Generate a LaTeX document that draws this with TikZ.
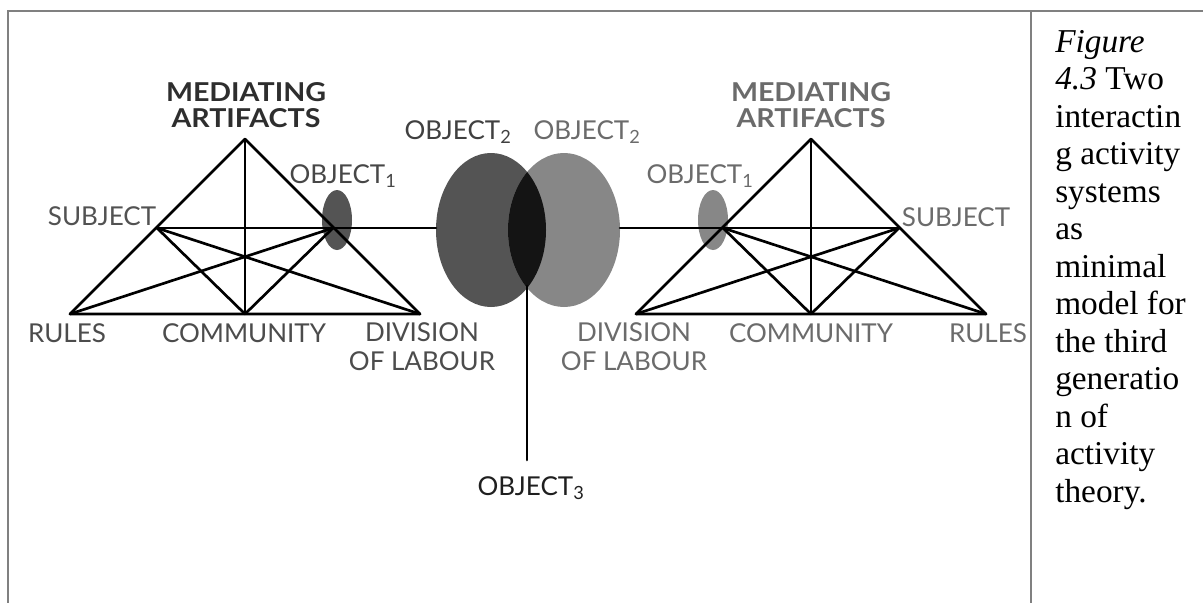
\documentclass[tikz,border=0pt]{standalone}
\usepackage{fontspec}
\setmainfont{Liberation Serif}
\newfontfamily\gillfont{Lato}
\newfontfamily\gillwide{Lato}[FakeStretch=1.1]
\begin{document}
\begin{tikzpicture}[x=0.75pt,y=-0.75pt,
  tri/.style={line width=2pt,line join=round,line cap=round},
  frame/.style={draw=black!50,line width=1.5pt},
  lbl/.style={font=\gillfont\fontsize{19.5}{22}\selectfont,inner sep=0pt,align=center},
  lblb/.style={font=\gillwide\bfseries\fontsize{19.5}{19}\selectfont,inner sep=0pt,align=center}]
\useasboundingbox (0,0) rectangle (1203,603);
% frame
\draw[frame] (8,603) -- (8,11) -- (1203,11);
\draw[frame] (1031,11) -- (1031,603);
% coordinates left system
\coordinate (LA) at (245,139);
\coordinate (LR) at (70,314);
\coordinate (LC) at (245,314);
\coordinate (LD) at (420,314);
\coordinate (LS) at (157,228);
\coordinate (LO) at (333,228);
% right system
\coordinate (RA) at (811,139);
\coordinate (RR) at (986,314);
\coordinate (RC) at (811,314);
\coordinate (RD) at (636,314);
\coordinate (RS) at (899,228);
\coordinate (RO) at (723,228);
% object ellipses
\fill[black!67] (337,220) ellipse [x radius=15, y radius=30];
\fill[black!47] (713,220) ellipse [x radius=15, y radius=30];
\fill[black!67] (491,230) ellipse [x radius=55, y radius=77];
\fill[black!47] (564,230) ellipse [x radius=56, y radius=77];
\begin{scope}
\clip (491,230) ellipse [x radius=55, y radius=77];
\fill[black!92] (564,230) ellipse [x radius=56, y radius=77];
\end{scope}
\coordinate (BLw) at (436,228);
\coordinate (BRe) at (620,228);
\coordinate (X3top) at (527,286);
\coordinate (X3bot) at (527,460);
% left triangle lines
\draw[tri] (LR) -- (LA) -- (LD) -- cycle;
\draw[tri] (LA) -- (LC);
\draw[tri] (LS) -- (LO);
\draw[tri] (LS) -- (LC);
\draw[tri] (LS) -- (LD);
\draw[tri] (LO) -- (LC);
\draw[tri] (LO) -- (LR);
% right triangle lines
\draw[tri] (RR) -- (RA) -- (RD) -- cycle;
\draw[tri] (RA) -- (RC);
\draw[tri] (RS) -- (RO);
\draw[tri] (RS) -- (RC);
\draw[tri] (RS) -- (RD);
\draw[tri] (RO) -- (RC);
\draw[tri] (RO) -- (RR);
% connectors
\draw[tri] (LO) -- (BLw);
\draw[tri] (BRe) -- (RO);
\draw[tri] (X3top) -- (X3bot);
% labels left
\node[lblb,text=black!82] (lmed) at (246,105) {MEDIATING\\ARTIFACTS};
\node[lbl,text=black!68] (lsub) at (102,216) {SUBJECT};
\node[lbl,text=black!72] (lob1) at (343,176) {OBJECT\textsubscript{1}};
\node[lbl,text=black!70] (lrul) at (67,333) {RULES};
\node[lbl,text=black!70] (lcom) at (244,333) {COMMUNITY};
\node[lbl,text=black!70] (ldiv) at (422,347) {DIVISION\\OF LABOUR};
% labels centre
\node[lbl,text=black!75] (ob2l) at (458,132) {OBJECT\textsubscript{2}};
\node[lbl,text=black!58] (ob2r) at (587,132) {OBJECT\textsubscript{2}};
\node[lbl,text=black!88] (ob3) at (531,488) {OBJECT\textsubscript{3}};
% labels right
\node[lblb,text=black!58] (rmed) at (811,105) {MEDIATING\\ARTIFACTS};
\node[lbl,text=black!58] (rsub) at (956,217) {SUBJECT};
\node[lbl,text=black!58] (rob1) at (700,176) {OBJECT\textsubscript{1}};
\node[lbl,text=black!58] (rrul) at (988,333) {RULES};
\node[lbl,text=black!58] (rcom) at (811,333) {COMMUNITY};
\node[lbl,text=black!58] (rdiv) at (634,347) {DIVISION\\OF LABOUR};
% caption
\node[anchor=base west,align=left,inner sep=0pt,font=\fontsize{25}{28.1}\selectfont] (cap) at (1055,502)
 {\textit{Figure}\\\textit{4.3} Two\\interactin\\g activity\\systems\\as\\minimal\\model for\\the third\\generatio\\n of\\activity\\theory.};
\end{tikzpicture}
\end{document}
